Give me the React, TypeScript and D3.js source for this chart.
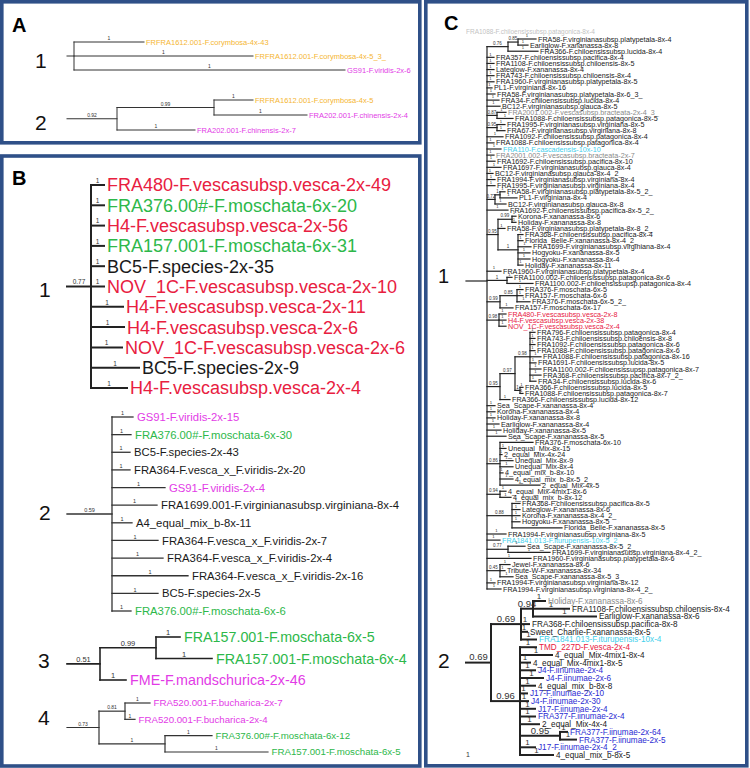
import React from 'react';
import * as d3 from 'd3';

const COLORS: Record<string, string> = {
  o: '#f5b631', m: '#e23be6', r: '#e8203f', g: '#2db84a', c: '#3fd0ec', b: '#2b2bd2', k: '#1a1a1a', y: '#8a8a8a',
};

const treeA1 = `(o~FRFRA1612.001-F.corymbosa-4x-43:70,o~FRFRA1612.001-F.corymbosa-4x-5_3_:179,m~GS91-F.viridis-2x-6:271):7`;
const treeA2 = `((o~FRFRA1612.001-F.corymbosa-4x-5:39,m~FRA202.001-F.chinensis-2x-4:93)0.99:97,m~FRA202.001-F.chinensis-2x-7:78)0.92:50`;

const treeB1 = `(r~FRA480-F.vescasubsp.vesca-2x-49:13,g~FRA376.00#-F.moschata-6x-20:13,r~H4-F.vescasubsp.vesca-2x-56:13,
g~FRA157.001-F.moschata-6x-31:13,k~BC5-F.species-2x-35:13,r~NOV_1C-F.vescasubsp.vesca-2x-10:13,
r~H4-F.vescasubsp.vesca-2x-11:32,r~H4-F.vescasubsp.vesca-2x-6:33,r~NOV_1C-F.vescasubsp.vesca-2x-6:31,
k~BC5-F.species-2x-9:48,r~H4-F.vescasubsp.vesca-2x-4:36)0.77:24`;

const treeB2 = `(m~GS91-F.viridis-2x-15:21,g~FRA376.00#-F.moschata-6x-30:19,k~BC5-F.species-2x-43:18,
k~FRA364-F.vesca_x_F.viridis-2x-20:18,m~GS91-F.viridis-2x-4:53,k~FRA1699.001-F.virginianasubsp.virginiana-8x-4:45,
k~A4_equal_mix_b-8x-11:20,k~FRA364-F.vesca_x_F.viridis-2x-7:46,k~FRA364-F.vesca_x_F.viridis-2x-4:51,
k~FRA364-F.vesca_x_F.viridis-2x-16:76,k~BC5-F.species-2x-5:46,g~FRA376.00#-F.moschata-6x-6:19)0.59:45`;

const treeB3 = `((g~FRA157.001-F.moschata-6x-5:24,g~FRA157.001-F.moschata-6x-4:56)0.99:56,m~FME-F.mandschurica-2x-46:26)0.51:33`;

const treeB4 = `((m~FRA520.001-F.bucharica-2x-7:25,m~FRA520.001-F.bucharica-2x-4:10)0.81:26,
(g~FRA376.00#-F.moschata-6x-12:47,g~FRA157.001-F.moschata-6x-5:103)1:66)0.73:32`;

const treeC1 = `(
((k~FRA58-F.virginianasubsp.platypetala-8x-4:18,k~Earliglow-F.xananassa-8x-8:10)0.85:10,k~FRA366-F.chiloensissubsp.lucida-8x-4:30)0.76:21,
k~FRA357-F.chiloensissubsp.pacifica-8x-4:7,k~FRA1108-F.chiloensissubsp.chiloensis-8x-5:7,k~Lateglow-F.xananassa-8x-4:7,
k~FRA743-F.chiloensissubsp.chiloensis-8x-4:7,k~FRA1960-F.virginianasubsp.platypetala-8x-5:7,k~PL1-F.virginiana-8x-16:5,
k~FRA58-F.virginianasubsp.platypetala-8x-6_3_:8,k~FRA34-F.chiloensissubsp.lucida-8x-4:12,k~BC12-F.virginianasubsp.glauca-8x-5:13,
(y~FRA2001.002-F.vescasubsp.bracteata-2x-4_3_:9,k~FRA1088-F.chiloensissubsp.patagonica-8x-5:16)0.87:10,
(k~FRA1995-F.virginianasubsp.virginiana-8x-5:8,k~FRA67-F.virginianasubsp.virginiana-8x-8:8)0.95:10,
k~FRA1092-F.chiloensissubsp.patagonica-8x-4:16,k~FRA1088-F.chiloensissubsp.patagonica-8x-4:7,c~FRA110-F.cascadensis-10x-10:14,
y~FRA2001.002-F.vescasubsp.bracteata-2x-7:7,k~FRA1692-F.chiloensissubsp.pacifica-8x-10:8,k~FRA1697-F.virginianasubsp.glauca-8x-4:14,
k~BC12-F.virginianasubsp.glauca-8x-4_2_:6,k~FRA1994-F.virginianasubsp.virginiana-8x-4:8,k~FRA1995-F.virginianasubsp.virginiana-8x-4:8,
((k~FRA58-F.virginianasubsp.platypetala-8x-5_2_:5,k~PL1-F.virginiana-8x-4:17)1:5,k~BC12-F.virginianasubsp.glauca-8x-8:11)0.72:8,
k~FRA1692-F.chiloensissubsp.pacifica-8x-5_2_:21,
((k~Korona-F.xananassa-8x-6:4,k~Holiday-F.xananassa-8x-8:4)0.99:14,k~FRA58-F.virginianasubsp.platypetala-8x-8_2_:7,
(k~FRA368-F.chiloensissubsp.pacifica-8x-4:5,k~Florida_Belle-F.xananassa-8x-4_2_:5,k~FRA1699-F.virginianasubsp.virginiana-8x-4:13,
k~Hogyoku-F.xananassa-8x-5:12,k~Hogyoku-F.xananassa-8x-4:12,k~Holiday-F.xananassa-8x-11:5)1:20)0.95:11,
k~FRA1960-F.virginianasubsp.platypetala-8x-4:14,
(k~FRA1100.002-F.chiloensissupsp.patagonica-8x-6:5,k~FRA1100.002-F.chiloensissupsp.patagonica-8x-4:26)1:20,
((k~FRA376-F.moschata-6x-5:6,k~FRA157-F.moschata-6x-6:6,k~FRA376-F.moschata-6x-5_2_:13)0.85:17,k~FRA157-F.moschata-6x-17:13)0.99:13,
(r~FRA480-F.vescasubsp.vesca-2x-8:7,r~H4-F.vescasubsp.vesca-2x-38:7,r~NOV_1C-F.vescasubsp.vesca-2x-4:7)0.98:12,
(((k~FRA796-F.chiloensissubsp.patagonica-8x-4:5,k~FRA743-F.chiloensissubsp.chiloensis-8x-8:5,k~FRA1092-F.chiloensissubsp.patagonica-8x-6:5,
k~FRA1088-F.chiloensissubsp.patagonica-8x-6:5,k~FRA1088-F.chiloensissubsp.patagonica-8x-16:11,k~FRA1691-F.chiloensissubsp.lucida-8x-5:6,
k~FRA1100.002-F.chiloensissupsp.patagonica-8x-7:11,k~FRA368-F.chiloensissubsp.pacifica-8x-7_2_:11,k~FRA34-F.chiloensissubsp.lucida-8x-6:6)0.98:15,
(k~FRA366-F.chiloensissubsp.lucida-8x-5:3,k~FRA1088-F.chiloensissubsp.patagonica-8x-7:3)1:5)0.97:15,
k~FRA366-F.chiloensissubsp.lucida-8x-12:10)0.95:13,
k~Sea_Scape-F.xananassa-8x-4:8,k~Korona-F.xananassa-8x-4:8,k~Holiday-F.xananassa-8x-8:8,k~Earliglow-F.xananassa-8x-4:12,
k~Holiday-F.xananassa-8x-5:14,k~Sea_Scape-F.xananassa-8x-5:19,
(k~FRA376-F.moschata-6x-10:33,k~Unequal_Mix-8x-15:6,k~2_equal_Mix-4x-24:2,k~Unequal_Mix-8x-9:13,k~Unequal_Mix-8x-4:13,
k~4_equal_mix_b-8x-10:3,k~4_equal_mix_b-8x-5_2_:13,k~2_equal_Mix-4x-5:40)0.86:13,
(k~4_equal_Mix-4mix1-8x-6:6,k~4_equal_mix_b-8x-12:11)0.94:13,
(k~FRA368-F.chiloensissubsp.pacifica-8x-5:8,k~Lateglow-F.xananassa-8x-6:8,k~Korona-F.xananassa-8x-4_2_:8,
k~Hogyoku-F.xananassa-8x-5:8,k~Florida_Belle-F.xananassa-8x-5:50)0.88:25,
k~FRA1994-F.virginianasubsp.virginiana-8x-5:19,c~FRA1841.013-F.iturupensis-10x-5_2_:13,
(k~Sea_Scape-F.xananassa-8x-5_2_:17,k~FRA1699-F.virginianasubsp.virginiana-8x-4_2_:42)0.77:21,
k~FRA1960-F.virginianasubsp.platypetala-8x-6:44,
(k~Jewel-F.xananassa-8x-6:10,k~Tribute-W-F.xananassa-8x-34:5,k~Sea_Scape-F.xananassa-8x-5_3_:13)0.45:13,
k~FRA1994-F.virginianasubsp.virginiana-8x-12:8,k~FRA1994-F.virginianasubsp.virginiana-8x-4_2_:14
):21`;

const treeC2 = `(
((y~Holiday-F.xananassa-8x-6:12,k~FRA1108-F.chiloensissubsp.chiloensis-8x-4:36,k~Earliglow-F.xananassa-8x-6:63)0.94:12,
k~FRA368-F.chiloensissubsp.pacifica-8x-8:8,k~Sweet_Charlie-F.xananassa-8x-5:6,c~FRA1841.013-F.iturupensis-10x-4:15)0.69:30,
(r~TMD_227D-F.vesca-2x-4:16,k~4_equal_Mix-4mix1-8x-4:32,k~4_equal_Mix-4mix1-8x-5:10,b~J4-F.iinumae-2x-4:15,
b~J4-F.iinumae-2x-6:23,k~4_equal_mix_b-8x-8:15,b~J17-F.iinumae-2x-10:7,b~J4-F.iinumae-2x-30:8,b~J17-F.iinumae-2x-4:15,
b~FRA377-F.iinumae-2x-4:15,k~2_equal_Mix-4x-4:19,(b~FRA377-F.iinumae-2x-64:7,b~FRA377-F.iinumae-2x-5:16)0.95:40,
b~J17-F.iinumae-2x-4_2_:15,k~4_equal_mix_b-8x-5:33)0.96:29
)0.69:25`;

type N = { name: string; len: number; sup: string; children: N[] };

function parseNewick(src: string): N {
  const s = src.replace(/\s+/g, '');
  let i = 0;
  const stop = ':,()';
  function node(): N {
    const n: N = { name: '', len: 0, sup: '', children: [] };
    if (s[i] === '(') {
      i++;
      n.children.push(node());
      while (s[i] === ',') { i++; n.children.push(node()); }
      i++;
      let t = '';
      while (i < s.length && !stop.includes(s[i])) t += s[i++];
      n.sup = t;
    } else {
      let t = '';
      while (i < s.length && !stop.includes(s[i])) t += s[i++];
      n.name = t;
    }
    if (s[i] === ':') {
      i++;
      let t = '';
      while (i < s.length && !',()'.includes(s[i])) t += s[i++];
      n.len = +t;
    }
    return n;
  }
  return node();
}

type Cfg = {
  newick: string; x0: number; y0: number; y1: number; font: number; supFont: number; leafSupFont: number;
  lw: number; gap: number; rootY?: number; num: string; numX: number; numY: number; numSize: number; line?: string;
};

const FONT = 'Arial, "Liberation Sans", Helvetica, sans-serif';

function Tree({ cfg }: { cfg: Cfg }) {
  const root: any = d3.hierarchy(parseNewick(cfg.newick), (d: N) => (d.children.length ? d.children : null));
  root.eachBefore((n: any) => { n.dd = (n.parent ? n.parent.dd : 0) + n.data.len; });
  const maxD = d3.max(root.descendants(), (n: any) => n.dd as number) as number;
  const x = d3.scaleLinear().domain([0, maxD]).range([cfg.x0, cfg.x0 + maxD]);
  const leaves = root.leaves();
  const y = d3.scaleLinear().domain([0, leaves.length - 1]).range([cfg.y0, cfg.y1]);
  leaves.forEach((l: any, i: number) => { l.yy = y(i); });
  root.eachAfter((n: any) => {
    if (n.children) n.yy = (n.children[0].yy + n.children[n.children.length - 1].yy) / 2;
  });
  if (cfg.rootY != null) root.yy = cfg.rootY;
  const stroke = cfg.line || '#222';
  const nodes = root.descendants();
  return (
    <g>
      {nodes.map((n: any, i: number) => {
        const px = x(n.parent ? n.parent.dd : 0);
        const nx = x(n.dd);
        const isLeaf = !n.children;
        const sup = isLeaf ? '1' : n.data.sup;
        const sf = isLeaf ? cfg.leafSupFont : cfg.supFont;
        const [code, label] = isLeaf ? n.data.name.split('~') : ['', ''];
        return (
          <g key={i}>
            <line x1={px} x2={nx} y1={n.yy} y2={n.yy} stroke={stroke} strokeWidth={cfg.lw} strokeLinecap="square" />
            {n.children && (
              <line x1={nx} x2={nx} y1={n.children[0].yy} y2={n.children[n.children.length - 1].yy}
                stroke={stroke} strokeWidth={cfg.lw} strokeLinecap="square" />
            )}
            {sup && (
              <text x={(px + nx) / 2} y={n.yy - cfg.lw / 2 - 1.2} fontSize={sf} textAnchor="middle" fill="#333"
                fontFamily={FONT}>{sup}</text>
            )}
            {isLeaf && (
              <text x={nx + cfg.gap} y={n.yy} dy="0.36em" fontSize={cfg.font} fill={COLORS[code] || '#1a1a1a'}
                fontFamily={FONT}>{label}</text>
            )}
          </g>
        );
      })}
      <text x={cfg.numX} y={cfg.numY} fontSize={cfg.numSize} fontFamily={FONT} fill="#111">{cfg.num}</text>
    </g>
  );
}

const trees: Cfg[] = [
  { newick: treeA1, x0: 67, y0: 42, y1: 70, font: 7.5, supFont: 5, leafSupFont: 5, lw: 1, gap: 2, num: '1', numX: 35, numY: 68, numSize: 21, line: '#333' },
  { newick: treeA2, x0: 67, y0: 100, y1: 130, font: 7.5, supFont: 5, leafSupFont: 5, lw: 1, gap: 2, num: '2', numX: 35, numY: 130, numSize: 21, line: '#333' },
  { newick: treeB1, x0: 67, y0: 185, y1: 388, font: 18, supFont: 6.5, leafSupFont: 6.5, lw: 2, gap: 3, num: '1', numX: 39, numY: 297, numSize: 21 },
  { newick: treeB2, x0: 67, y0: 417, y1: 611, font: 11.3, supFont: 5.5, leafSupFont: 5.5, lw: 1.3, gap: 4, num: '2', numX: 39, numY: 520, numSize: 21, line: '#333' },
  { newick: treeB3, x0: 67, y0: 637, y1: 680, font: 14.3, supFont: 7.5, leafSupFont: 7.5, lw: 1.6, gap: 4, num: '3', numX: 38, numY: 668, numSize: 21 },
  { newick: treeB4, x0: 67, y0: 703, y1: 752, font: 9.7, supFont: 5, leafSupFont: 5, lw: 1.2, gap: 3.5, num: '4', numX: 38, numY: 725, numSize: 21, line: '#333' },
  { newick: treeC1, x0: 466, y0: 39, y1: 589, font: 7.2, supFont: 4.5, leafSupFont: 4.2, lw: 1.2, gap: 2, rootY: 281, num: '1', numX: 438, numY: 283, numSize: 20 },
  { newick: treeC2, x0: 466, y0: 601, y1: 755, font: 8.2, supFont: 9.5, leafSupFont: 8, lw: 2, gap: 3, num: '2', numX: 438, numY: 668, numSize: 21 },
];

const BORDER = '#2f5088';

export default function App() {
  return (
    <svg width={750} height={768} style={{ position: 'absolute', left: 0, top: 0, background: '#fff' }}>
      <rect x={0} y={0} width={750} height={768} fill="#fff" />
      <rect x={1.8} y={1.8} width={418} height={141} fill="none" stroke={BORDER} strokeWidth={3.6} />
      <rect x={1.8} y={156} width={418} height={610} fill="none" stroke={BORDER} strokeWidth={3.6} />
      <rect x={425.8} y={1.8} width={321} height={764} fill="none" stroke={BORDER} strokeWidth={3.6} />
      <text x={12} y={32} fontSize={20} fontWeight="bold" fontFamily={FONT}>A</text>
      <text x={12} y={185} fontSize={20} fontWeight="bold" fontFamily={FONT}>B</text>
      <text x={444} y={30} fontSize={20} fontWeight="bold" fontFamily={FONT}>C</text>
      <text x={466} y={34} fontSize={6.5} fill="#999" opacity={0.6} fontFamily={FONT}>FRA1088-F.chiloensissubsp.patagonica-8x-4</text>
      {trees.map((t, i) => <Tree key={i} cfg={t} />)}
      <text x={466} y={757} fontSize={7} fill="#333" fontFamily={FONT}>1</text>
    </svg>
  );
}
